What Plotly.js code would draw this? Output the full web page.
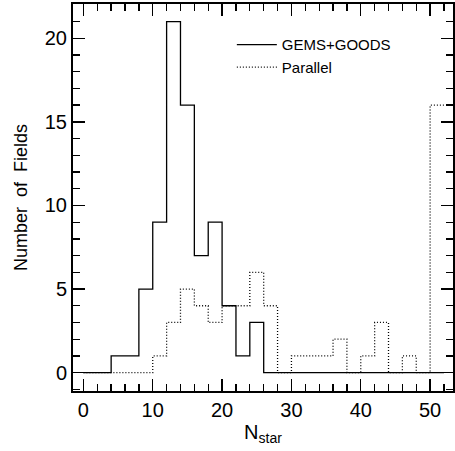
<!DOCTYPE html>
<html>
<head>
<meta charset="utf-8">
<script src="https://cdn.plot.ly/plotly-3.0.1.min.js"></script>
<style>html,body{margin:0;padding:0;background:#fff;}</style>
</head>
<body>
<div id="chart" style="width:455px;height:451px"></div>
<script>
// Histogram bin edges (width 2) and counts per bin
const binEdges = [0,2,4,6,8,10,12,14,16,18,20,22,24,26,28,30,32,34,36,38,40,42,44,46,48,50,52];
const gemsGoods = [0,0,1,1,5,9,21,16,7,9,4,1,3,0,0,0,0,0,0,0,0,0,0,0,0,0];
const parallel  = [0,0,0,0,0,1,3,5,4,3,4,4,6,4,0,1,1,1,2,0,1,3,0,1,0,16];
const seriesNames = ["GEMS+GOODS", "Parallel"];
const xTickVals = [0,10,20,30,40,50];
const yTickVals = [0,5,10,15,20];

function stepY(counts){ return counts.concat([counts[counts.length-1]]); }

const FONT = "Liberation Sans, Arial, sans-serif";

const traces = [
  {x: binEdges, y: stepY(gemsGoods), name: seriesNames[0], mode: "lines",
   line: {shape: "hv", color: "#000", width: 1.3}},
  {x: binEdges, y: stepY(parallel), name: seriesNames[1], mode: "lines",
   line: {shape: "hv", color: "#000", width: 1.3, dash: "1px,2px"}}
];

const axisCommon = {
  showline: true, linecolor: "#000", linewidth: 2, mirror: "allticks",
  ticks: "inside", ticklen: 12, tickwidth: 1.3, tickcolor: "#000",
  showgrid: false, zeroline: false,
  tickfont: {family: FONT, size: 20, color: "#000"}
};

const layout = {
  width: 455, height: 451,
  margin: {l: 73, r: 2, t: 4, b: 60},
  paper_bgcolor: "#fff", plot_bgcolor: "#fff",
  showlegend: true,
  legend: {x: 0.418, y: 0.937, xanchor: "left", yanchor: "top", itemwidth: 40,
           bgcolor: "rgba(0,0,0,0)", font: {family: FONT, size: 15, color: "#000"},
           tracegroupgap: 0},
  xaxis: Object.assign({}, axisCommon, {
    range: [-1.5, 53.3], tickvals: xTickVals, ticktext: xTickVals.map(String),
    minor: {dtick: 2, tick0: 0, ticks: "inside", ticklen: 7, tickwidth: 1.3, tickcolor: "#000", showgrid: false},
    title: {text: "N<sub>star</sub>", font: {family: FONT, size: 20, color: "#000"}, standoff: 3}
  }),
  yaxis: Object.assign({}, axisCommon, {
    range: [-1.1, 22.05], tickvals: yTickVals, ticktext: yTickVals.map(String),
    minor: {dtick: 1, tick0: 0, ticks: "inside", ticklen: 7, tickwidth: 1.3, tickcolor: "#000", showgrid: false},
    title: {text: "Number\u00A0\u00A0of\u00A0\u00A0Fields", font: {family: FONT, size: 18, color: "#000"}, standoff: 12}
  })
};

Plotly.newPlot("chart", traces, layout, {displayModeBar: false, staticPlot: true});
</script>
</body>
</html>
